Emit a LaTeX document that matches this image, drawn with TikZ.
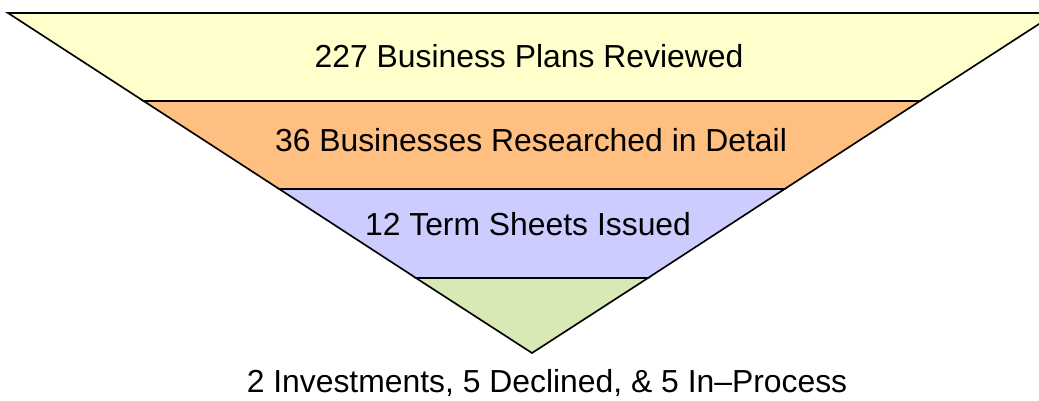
\documentclass[tikz,border=0pt]{standalone}
\usepackage{fontspec}
\setmainfont{Liberation Sans}
\usetikzlibrary{positioning}
\definecolor{planwash}{HTML}{FFFFCC}
\definecolor{researchwash}{HTML}{FFBF80}
\definecolor{termwash}{HTML}{CCCCFF}
\definecolor{dealwash}{HTML}{D8E9B6}

\begin{document}
\begin{tikzpicture}[
  x=0.75pt, y=-0.75pt,
  every node/.style={font=\fontsize{23.9}{27}\selectfont, inner sep=0pt},
  band/.style={draw=black, line width=1.25pt, line join=miter},
  lbl/.style={anchor=base}
]
\useasboundingbox (0,0) rectangle (1039,400);
\clip (0,0) rectangle (1039,400);
% funnel bands, top to bottom
\draw[band, fill=planwash] (8,13) -- (1056,13) -- (920,101) -- (143.6,101) -- cycle;
\draw[band, fill=researchwash] (143.6,101) -- (920,101) -- (784.6,189) -- (279.2,189) -- cycle;
\draw[band, fill=termwash] (279.2,189) -- (784.6,189) -- (648,278) -- (416,278) -- cycle;
\draw[band, fill=dealwash] (416,278) -- (648,278) -- (532,353) -- cycle;
% band texts
\node[lbl] (plans) at (529,67) {227 Business Plans Reviewed};
\node[lbl] (research) at (531,151) {36 Businesses Researched in Detail};
\node[lbl] (terms) at (528,235) {12 Term Sheets Issued};
\node[lbl] (deals) at (547,392) {2 Investments, 5 Declined, \& 5 In–Process};
\end{tikzpicture}
\end{document}
